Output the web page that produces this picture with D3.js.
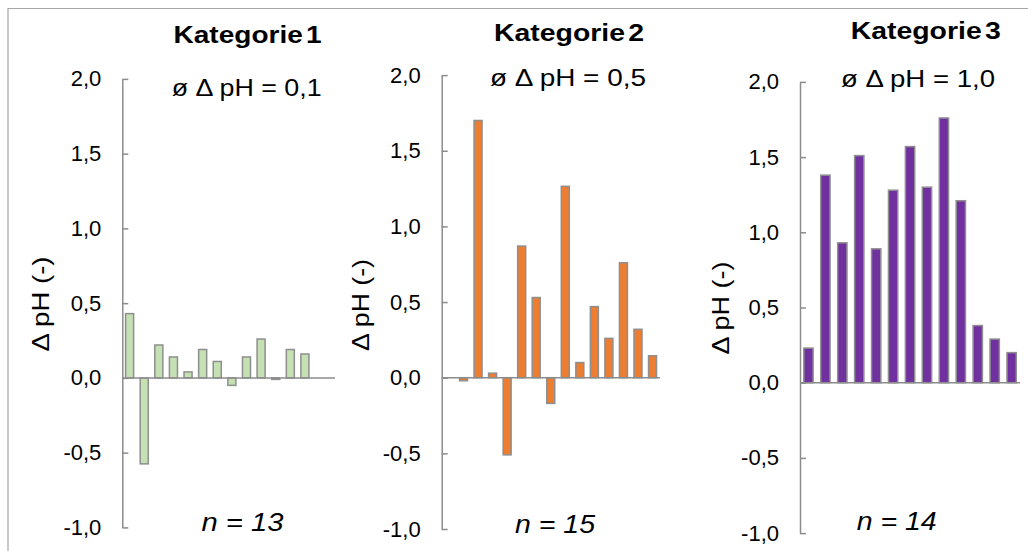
<!DOCTYPE html>
<html>
<head>
<meta charset="utf-8">
<script src="https://cdn.jsdelivr.net/npm/d3@7"></script>
<style>
  html, body { margin: 0; padding: 0; background: #ffffff; }
  svg { display: block; }
  text { font-family: "Liberation Sans", Arial, sans-serif; fill: #000; }
</style>
</head>
<body>
<svg id="chart" width="1028" height="551"></svg>
<script>
// ---- data ---------------------------------------------------------------
const titles = ["Kategorie 1", "Kategorie 2", "Kategorie 3"];
const meanLabels = ["ø Δ pH = 0,1", "ø Δ pH = 0,5", "ø Δ pH = 1,0"];
const countLabels = ["13", "15", "14"];

const samples1 = [1, 2, 3, 4, 5, 6, 7, 8, 9, 10, 11, 12, 13];
const values1 = [0.43, -0.575, 0.22, 0.14, 0.04, 0.19, 0.11, -0.05, 0.14, 0.26, -0.01, 0.19, 0.16];

const samples2 = [1, 2, 3, 4, 5, 6, 7, 8, 9, 10, 11, 12, 13, 14, 15];
const values2 = [null, -0.02, 1.70, 0.03, -0.51, 0.87, 0.53, -0.17, 1.265, 0.10, 0.47, 0.26, 0.76, 0.32, 0.145];

const samples3 = [1, 2, 3, 4, 5, 6, 7, 8, 9, 10, 11, 12, 13];
const values3 = [0.23, 1.38, 0.93, 1.51, 0.89, 1.28, 1.57, 1.30, 1.76, 1.21, 0.38, 0.29, 0.20];

const yTicks = [-1, -0.5, 0, 0.5, 1, 1.5, 2];
const yDomain = [-1, 2];
const barColors = ["#c5e0b3", "#ed7d31", "#7030a0"];

// ---- layout -------------------------------------------------------------
const panels = [
  { samples: samples1, values: values1, axisX: 122.3, band: 14.61, axisEnd: 335,
    yTop: 78.9, yBottom: 527.4,
    title: { x: 247.5, y: 43, w: 148 }, mean: { x: 246.7, y: 96, w: 150 },
    count: { x: 242.5, y: 531, w: 82 }, ylab: { x: 49, y: 304, w: 95 } },
  { samples: samples2, values: values2, axisX: 441.7, band: 14.54, axisEnd: 660,
    yTop: 75.1, yBottom: 529,
    title: { x: 569, y: 41, w: 150 }, mean: { x: 568, y: 86, w: 156 },
    count: { x: 555, y: 533, w: 80 }, ylab: { x: 369, y: 305, w: 92 } },
  { samples: samples3, values: values3, axisX: 800, band: 16.93, axisEnd: 1020,
    yTop: 81.9, yBottom: 533.1,
    title: { x: 925.7, y: 39, w: 150 }, mean: { x: 918, y: 87, w: 154 },
    count: { x: 896.7, y: 530, w: 80 }, ylab: { x: 729, y: 308, w: 93 } }
];

const axisGray = "#8c8c8c";
const locale = d3.formatLocale({ decimal: ",", thousands: ".", grouping: [3], currency: ["", " €"], minus: "-" });
const fmt = locale.format(".1f");

const svg = d3.select("#chart");

// outer frame of the chart area
svg.append("path")
  .attr("d", "M8,560V8.5H1040")
  .attr("fill", "none")
  .attr("stroke", "#a6a6a6")
  .attr("stroke-width", 1.2);

panels.forEach((p, i) => {
  const g = svg.append("g");

  const x = d3.scaleBand()
    .domain(p.samples)
    .range([p.axisX, p.axisX + p.samples.length * p.band])
    .paddingInner(0.45)
    .paddingOuter(0.225);

  const y = d3.scaleLinear().domain(yDomain).range([p.yBottom, p.yTop]);

  // y axis with inward ticks
  const yAxis = d3.axisLeft(y)
    .tickValues(yTicks)
    .tickFormat(fmt)
    .tickSizeInner(-6)
    .tickSizeOuter(0)
    .tickPadding(21);

  const ag = g.append("g")
    .attr("transform", `translate(${p.axisX},0)`)
    .call(yAxis);
  ag.select(".domain").attr("stroke", axisGray).attr("stroke-width", 1.5);
  ag.selectAll(".tick line").attr("stroke", axisGray).attr("stroke-width", 1.5);
  ag.selectAll(".tick text")
    .attr("font-size", 22)
    .attr("font-family", "Liberation Sans, Arial, sans-serif")
    .attr("fill", "#000");

  // bars
  const rows = p.samples.map((s, k) => ({ s, v: p.values[k] })).filter(d => d.v !== null);
  g.selectAll("rect.bar")
    .data(rows)
    .join("rect")
    .attr("class", "bar")
    .attr("x", d => x(d.s))
    .attr("width", x.bandwidth())
    .attr("y", d => Math.min(y(d.v), y(0)))
    .attr("height", d => Math.abs(y(d.v) - y(0)))
    .attr("fill", barColors[i])
    .attr("stroke", "#8f8f8f")
    .attr("stroke-width", 1.5);

  // zero line (category axis)
  g.append("line")
    .attr("x1", p.axisX).attr("x2", p.axisEnd)
    .attr("y1", y(0)).attr("y2", y(0))
    .attr("stroke", axisGray)
    .attr("stroke-width", 1.5);

  // title
  g.append("text")
    .attr("x", p.title.x).attr("y", p.title.y)
    .attr("text-anchor", "middle")
    .attr("font-size", 24).attr("font-weight", "bold")
    .attr("word-spacing", -4)
    .attr("textLength", p.title.w).attr("lengthAdjust", "spacingAndGlyphs")
    .text(titles[i]);

  // mean label
  g.append("text")
    .attr("x", p.mean.x).attr("y", p.mean.y)
    .attr("text-anchor", "middle")
    .attr("font-size", 24)
    .attr("textLength", p.mean.w).attr("lengthAdjust", "spacingAndGlyphs")
    .text(meanLabels[i]);

  // sample count
  g.append("text")
    .attr("x", p.count.x).attr("y", p.count.y)
    .attr("text-anchor", "middle")
    .attr("font-size", 25).attr("font-style", "italic")
    .attr("textLength", p.count.w).attr("lengthAdjust", "spacingAndGlyphs")
    .text(`n = ${countLabels[i]}`);

  // y axis title
  g.append("text")
    .attr("transform", `translate(${p.ylab.x},${p.ylab.y}) rotate(-90)`)
    .attr("text-anchor", "middle")
    .attr("font-size", 24)
    .attr("textLength", p.ylab.w).attr("lengthAdjust", "spacingAndGlyphs")
    .text("Δ pH (-)");
});
</script>
</body>
</html>
